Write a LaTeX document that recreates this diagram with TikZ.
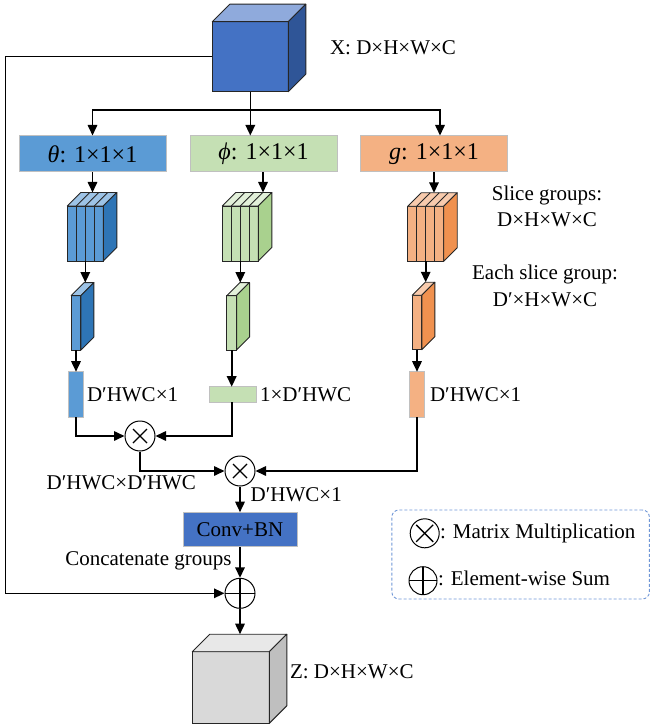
\documentclass[tikz,border=0pt]{standalone}
\usepackage{fontspec}
\setmainfont{Liberation Serif}
\usetikzlibrary{arrows.meta,calc}

% palette
\definecolor{xfront}{HTML}{4472C4}
\definecolor{xtop}{HTML}{8FAADC}
\definecolor{xside}{HTML}{2F5597}
\definecolor{bfront}{HTML}{5B9BD5}
\definecolor{btop}{HTML}{9DC3E6}
\definecolor{bside}{HTML}{2E75B6}
\definecolor{gfront}{HTML}{C5E0B4}
\definecolor{gtop}{HTML}{E2F0D9}
\definecolor{gside}{HTML}{A9D18E}
\definecolor{ofront}{HTML}{F4B183}
\definecolor{otop}{HTML}{F8CBAD}
\definecolor{oside}{HTML}{F0914F}
\definecolor{zfront}{HTML}{D9D9D9}
\definecolor{ztop}{HTML}{E8E8E8}
\definecolor{zside}{HTML}{BFBFBF}
\definecolor{boxline}{HTML}{C0C0C0}
\definecolor{legendline}{HTML}{6F96D6}

% top and right faces of a box whose front face is node #1, depth #2
\newcommand\cuboidfaces[4]{%
  \draw[face, fill=#3] (#1.north west) -- ++(#2,-#2) -- ($(#1.north east)+(#2,-#2)$) -- (#1.north east) -- cycle;
  \draw[face, fill=#4] (#1.north east) -- ++(#2,-#2) -- ($(#1.south east)+(#2,-#2)$) -- (#1.south east) -- cycle;}

% divider lines of a four-slice stack (front width 36)
\newcommand\slicelines[2]{%
  \foreach \s in {9,18,27} {
    \draw[face] ($(#1.north west)+(\s,0)$) -- ($(#1.south west)+(\s,0)$);
    \draw[face] ($(#1.north west)+(\s,0)$) -- ++(#2,-#2);
  }}

\begin{document}
\begin{tikzpicture}[x=1pt,y=-1pt,
  face/.style={draw=black!85, line width=0.9pt, line join=round},
  frontface/.style={draw=black!85, line width=0.9pt, inner sep=0pt, outer sep=0pt},
  convbox/.style={draw=boxline, line width=1pt, inner sep=0pt, minimum width=147pt, minimum height=36pt,
    font=\fontsize{24}{26}\selectfont},
  bar/.style={draw=boxline, line width=1pt, inner sep=0pt, outer sep=0pt},
  lbl/.style={inner sep=0pt, outer sep=0pt, font=\fontsize{21}{24}\selectfont},
  arr/.style={line width=1.6pt, -{Triangle[length=10.5pt,width=9.5pt]}},
  mulop/.style={circle, draw, line width=1pt, fill=white, inner sep=0pt, minimum size=30pt,
    path picture={
      \draw[line width=1.3pt] ([shift={(-7,-7)}]path picture bounding box.center) -- ([shift={(7,7)}]path picture bounding box.center);
      \draw[line width=1.3pt] ([shift={(-7,7)}]path picture bounding box.center) -- ([shift={(7,-7)}]path picture bounding box.center);}},
  sumop/.style={circle, draw, line width=1pt, fill=white, inner sep=0pt, minimum size=30pt,
    path picture={
      \draw[line width=1.5pt] (path picture bounding box.north) -- (path picture bounding box.south);
      \draw[line width=1.5pt] (path picture bounding box.west) -- (path picture bounding box.east);}},
  legmul/.style={mulop, minimum size=29pt,
    path picture={
      \draw[line width=1.3pt] ([shift={(-8.5,-8.5)}]path picture bounding box.center) -- ([shift={(8.5,8.5)}]path picture bounding box.center);
      \draw[line width=1.3pt] ([shift={(-8.5,8.5)}]path picture bounding box.center) -- ([shift={(8.5,-8.5)}]path picture bounding box.center);}},
  legsum/.style={sumop, minimum size=28pt}
]
\useasboundingbox (0,0) rectangle (651,727);

% input volume X
\node[frontface, fill=xfront, minimum width=76pt, minimum height=70pt] (X) at (250.3,56.7) {};
\cuboidfaces{X}{17.5}{xtop}{xside}
\node[lbl, anchor=base west] (Xlbl) at (330,55) {X: D×H×W×C};

% the three 1x1x1 convolutions
\node[convbox, fill=bfront] (theta) at (92.5,154) {\textit{θ}: 1×1×1};
\node[convbox, fill=gfront] (phi) at (263.5,154) {\textit{ϕ}: 1×1×1};
\node[convbox, fill=ofront] (gconv) at (434,154) {\textit{g}: 1×1×1};

% stacks of slice groups
\node[frontface, fill=bfront, minimum width=36pt, minimum height=55pt] (tstack) at (85.3,233.5) {};
\cuboidfaces{tstack}{13.5}{btop}{bside}
\slicelines{tstack}{13.5}
\node[frontface, fill=gfront, minimum width=36pt, minimum height=55pt] (pstack) at (240.3,233.5) {};
\cuboidfaces{pstack}{13.5}{gtop}{gside}
\slicelines{pstack}{13.5}
\node[frontface, fill=ofront, minimum width=36pt, minimum height=55pt] (ostack) at (425.7,233.8) {};
\cuboidfaces{ostack}{13.5}{otop}{oside}
\slicelines{ostack}{13.5}

\node[lbl, align=center, font=\fontsize{21}{26.7}\selectfont, anchor=base] (slicelbl) at (547,226.7) {Slice groups:\\D×H×W×C};
\node[lbl, align=center, font=\fontsize{21}{27.5}\selectfont, anchor=base] (eachlbl) at (545,306.7) {Each slice group:\\D′×H×W×C};

% one slice group per branch
\node[frontface, fill=bfront, minimum width=9.7pt, minimum height=54.5pt] (tslab) at (76,322.8) {};
\cuboidfaces{tslab}{13}{btop}{bside}
\node[frontface, fill=gfront, minimum width=9.7pt, minimum height=54.5pt] (pslab) at (231.7,322.8) {};
\cuboidfaces{pslab}{13}{gtop}{gside}
\node[frontface, fill=ofront, minimum width=9.7pt, minimum height=54.5pt] (oslab) at (417,322.5) {};
\cuboidfaces{oslab}{13}{otop}{oside}

% flattened groups
\node[bar, fill=bfront, minimum width=14.5pt, minimum height=45.6pt] (tbar) at (76,394.5) {};
\node[bar, fill=gfront, minimum width=46.4pt, minimum height=15.6pt] (pbar) at (232.8,394.5) {};
\node[bar, fill=ofront, minimum width=15pt, minimum height=45.6pt] (obar) at (416.7,394.5) {};
\node[lbl, anchor=base west] (tbarlbl) at (87,401) {D′HWC×1};
\node[lbl, anchor=base west] (pbarlbl) at (260,401) {1×D′HWC};
\node[lbl, anchor=base west] (obarlbl) at (430,401) {D′HWC×1};

% products, projection and residual sum
\node[mulop] (m1) at (140,436) {};
\node[mulop] (m2) at (240,471) {};
\node[lbl, anchor=base east] (afflbl) at (196,489.3) {D′HWC×D′HWC};
\node[lbl, anchor=base west] (outlbl) at (250.7,501.7) {D′HWC×1};
\node[draw=boxline, line width=1pt, fill=xfront, inner sep=0pt, minimum width=114pt, minimum height=34pt,
  font=\fontsize{21}{24}\selectfont] (conv) at (240,529.7) {Conv+BN};
\node[lbl, anchor=base east] (catlbl) at (231.5,565) {Concatenate groups};
\node[sumop] (sum) at (240,593.3) {};

% output volume Z
\node[frontface, fill=zfront, minimum width=77pt, minimum height=71.6pt] (Z) at (230.8,687.5) {};
\cuboidfaces{Z}{17.5}{ztop}{zside}
\node[lbl, anchor=base west] (Zlbl) at (290,678.5) {Z: D×H×W×C};

% legend
\node[draw=legendline, dashed, dash pattern=on 3pt off 2pt, line width=0.9pt, rounded corners=7pt,
  inner sep=0pt, minimum width=257.5pt, minimum height=89pt] (legend) at (520.6,554.5) {};
\node[legmul] (lmul) at (424.7,533.3) {};
\node[lbl, anchor=base west] (lmullbl) at (440,538.3) {: Matrix Multiplication};
\node[legsum] (lsum) at (423,580.7) {};
\node[lbl, anchor=base west] (lsumlbl) at (438,585) {: Element-wise Sum};

% connectors
\coordinate (branch) at (250.3,110);
\coordinate (gin) at (440,0);
\coordinate (skipx) at (5.5,0);
\draw[arr] (X.south) -- (X.south |- phi.north);
\draw[arr] (branch) -| (theta.north);
\draw[arr] (branch) -| (gin |- gconv.north);

\draw[arr] (theta.south) -- (theta.south |- {$(tstack.north)+(0,-13.5)$});
\draw[arr] ([xshift=-0.5pt]phi.south) -- ([xshift=-0.5pt]phi.south |- {$(pstack.north)+(0,-13.5)$});
\draw[arr] (gconv.south) -- (gconv.south |- {$(ostack.north)+(0,-13.5)$});

\draw[arr] (tstack.south) -- (tstack.south |- {$(tslab.north)+(0,-13)$});
\draw[arr] (pstack.south) -- (pstack.south |- {$(pslab.north)+(0,-13)$});
\draw[arr] (ostack.south) -- (ostack.south |- {$(oslab.north)+(0,-13)$});

\draw[arr] (tslab.south) -- (tslab.south |- tbar.north);
\draw[arr] (pslab.south) -- (pslab.south |- pbar.north);
\draw[arr] (oslab.south) -- (oslab.south |- obar.north);

\draw[arr] (tbar.south) |- (m1);
\draw[arr] ([xshift=-1pt]pbar.south) |- (m1);
\draw[arr] (m1) |- (m2);
\draw[arr] (obar.south) |- (m2);
\draw[arr] (m2) -- (conv);
\draw[arr] (conv) -- (sum);
\draw[arr] (X.west) -| (skipx |- sum) -- (sum);
\draw[arr] (sum) -- (sum.south |- {$(Z.north)+(0,-17.5)$});
\end{tikzpicture}
\end{document}
